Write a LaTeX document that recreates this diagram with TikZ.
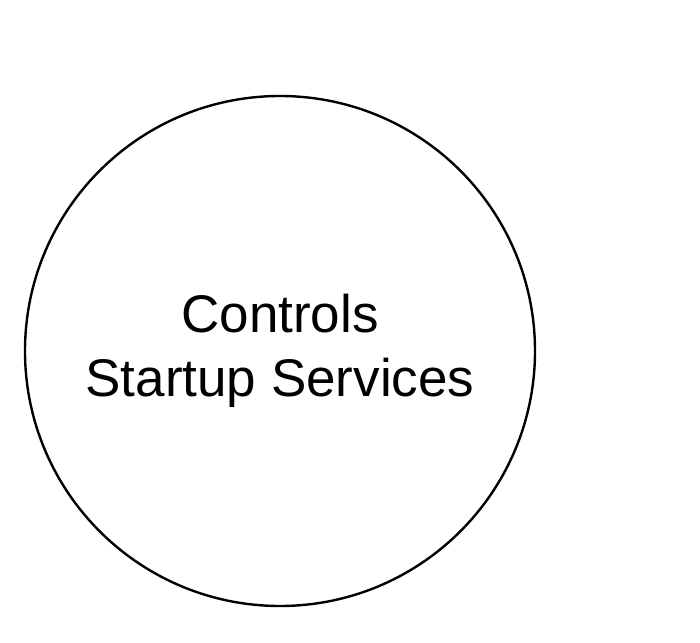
\documentclass[tikz,border=0pt]{standalone}
\usepackage{fontspec}
\setmainfont{Liberation Sans}
\usetikzlibrary{positioning}

\tikzset{
    bubble/.style={draw, circle, line width=2.4pt, minimum size=510pt, inner sep=0pt,
        align=center, font=\fontsize{53}{64}\selectfont}
}

\begin{document}
\begin{tikzpicture}[x=1pt,y=1pt]
    \useasboundingbox (0,0) rectangle (700,642);
    \node[bubble] (startup) at (280,291) {Controls\\Startup Services};
\end{tikzpicture}
\end{document}
